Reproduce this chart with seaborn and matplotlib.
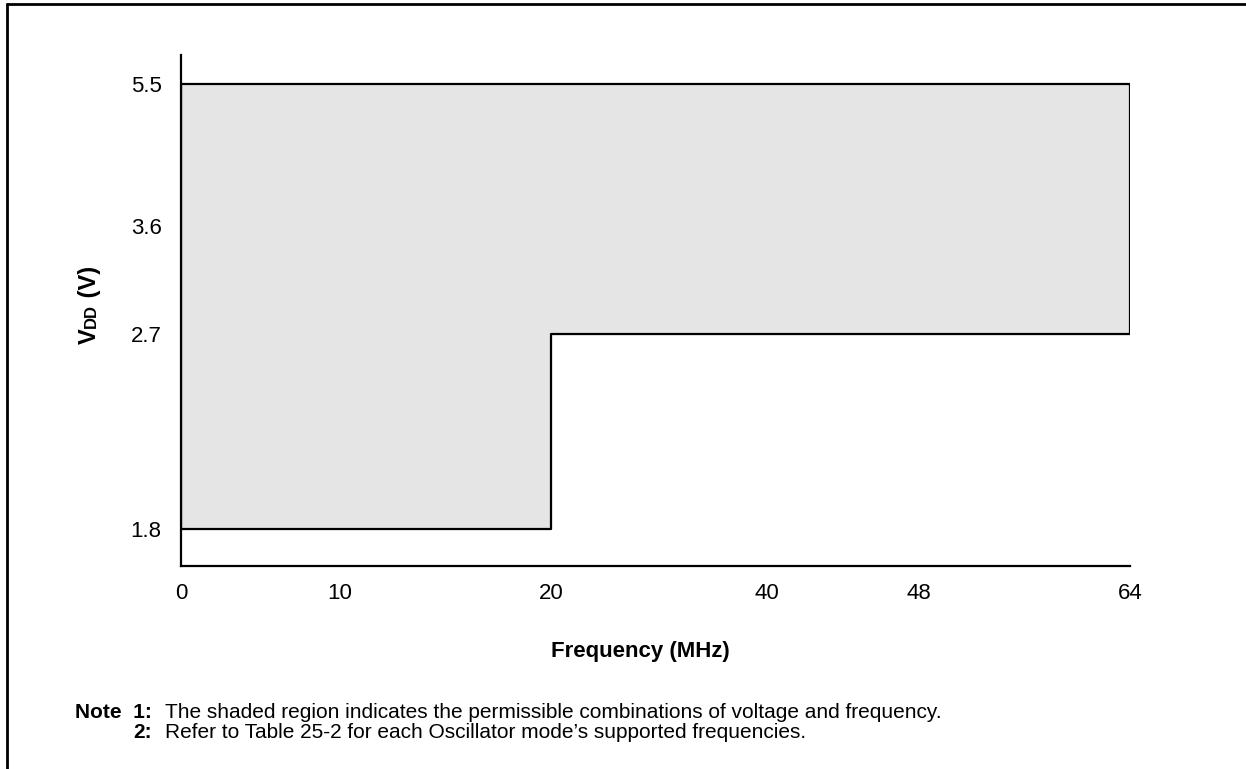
import matplotlib
matplotlib.use("Agg")
import matplotlib.pyplot as plt
from matplotlib.lines import Line2D
import numpy as np
import pandas as pd
import seaborn as sns

# permissible operating region (outline of the shaded area)
freq_mhz = [0, 20, 20, 64, 64, 0, 0]
vdd_volts = [1.8, 1.8, 2.7, 2.7, 5.5, 5.5, 1.8]

x_ticks = [0, 10, 20, 40, 48, 64]
y_ticks = [1.8, 2.7, 3.6, 5.5]

notes = [
    "The shaded region indicates the permissible combinations of voltage and frequency.",
    "Refer to Table 25-2 for each Oscillator mode\u2019s supported frequencies.",
]

# the datasheet axes are not linear: piecewise scale knots (value -> pixel offset)
x_knots = ([0, 10, 20, 40, 48, 64], [0, 159, 370, 586, 738, 949])
y_knots = ([1.8, 2.7, 3.6, 5.5], [37, 232, 340, 482])


def piecewise(v, kx, ky):
    v = np.asarray(v, dtype=float)
    shp = v.shape
    v = np.atleast_1d(v)
    out = np.interp(v, kx, ky)
    lo = v < kx[0]
    hi = v > kx[-1]
    out[lo] = ky[0] + (v[lo] - kx[0]) * (ky[1] - ky[0]) / (kx[1] - kx[0])
    out[hi] = ky[-1] + (v[hi] - kx[-1]) * (ky[-1] - ky[-2]) / (kx[-1] - kx[-2])
    return out.reshape(shp)


def make_scale(knots):
    kx, ky = knots
    return (lambda v: piecewise(v, kx, ky), lambda p: piecewise(p, ky, kx))


sns.set_style("white")
plt.rcParams["font.family"] = ["Liberation Sans", "DejaVu Sans"]
plt.rcParams["text.color"] = "black"
plt.rcParams["axes.labelcolor"] = "black"

fig = plt.figure(figsize=(12.46, 7.69), dpi=100)
ax = fig.add_axes([181 / 1246, 1 - 566 / 769, 949 / 1246, 511 / 769])

ax.set_xscale("function", functions=make_scale(x_knots))
ax.set_yscale("function", functions=make_scale(y_knots))

df = pd.DataFrame({"freq": freq_mhz, "vdd": vdd_volts})
ax.fill(df["freq"], df["vdd"], color="#e5e5e5", zorder=1)
sns.lineplot(data=df, x="freq", y="vdd", sort=False, estimator=None,
             color="black", linewidth=1.6, ax=ax, zorder=2)

yinv = make_scale(y_knots)[1]
ax.set_xlim(0, 64)
ax.set_ylim(float(yinv(0.0)), float(yinv(511.0)))

ax.set_xticks(x_ticks)
ax.set_xticklabels([str(t) for t in x_ticks])
ax.set_yticks(y_ticks)
ax.set_yticklabels([str(t) for t in y_ticks])
ax.tick_params(axis="both", length=0, labelsize=16, colors="black")
ax.tick_params(axis="x", pad=12)
ax.tick_params(axis="y", pad=14)

for side in ["top", "right"]:
    ax.spines[side].set_visible(False)
for side in ["left", "bottom"]:
    ax.spines[side].set_color("black")
    ax.spines[side].set_linewidth(1.6)

ax.set_xlabel("Frequency (MHz)", fontsize=16, fontweight="bold")
ax.xaxis.set_label_coords((640 - 181) / 949, -(641 - 566) / 511)
ax.set_ylabel("")

# y label "VDD (V)" with small-caps style DD, built from rotated pieces
x_base = 96
t1 = fig.text(x_base / 1246, (769 - 344) / 769, "V", rotation=90, rotation_mode="anchor",
              ha="left", va="baseline", fontsize=17, fontweight="bold")
fig.canvas.draw()
t2 = ax.annotate("DD", xy=(x_base, 1), xycoords=("figure pixels", t1), rotation=90,
                 rotation_mode="anchor", ha="left", va="baseline", fontsize=12,
                 fontweight="bold", annotation_clip=False)
fig.canvas.draw()
t3 = ax.annotate(" (V)", xy=(x_base, 1), xycoords=("figure pixels", t2), rotation=90,
                 rotation_mode="anchor", ha="left", va="baseline", fontsize=17,
                 fontweight="bold", annotation_clip=False)

# notes below the chart
note_y = [(769 - 718) / 769, (769 - 738) / 769]
fig.text(152 / 1246, note_y[0], "Note  1:", ha="right", va="baseline", fontsize=15, fontweight="bold")
fig.text(152 / 1246, note_y[1], "2:", ha="right", va="baseline", fontsize=15, fontweight="bold")
for yy, txt in zip(note_y, notes):
    fig.text(165 / 1246, yy, txt, ha="left", va="baseline", fontsize=15)

# frame of the figure (left and top edges)
fig.add_artist(Line2D([7 / 1246, 7 / 1246], [0, 1 - 4 / 769], color="black", linewidth=2,
                      transform=fig.transFigure))
fig.add_artist(Line2D([7 / 1246, 1], [1 - 4 / 769, 1 - 4 / 769], color="black", linewidth=2,
                      transform=fig.transFigure))

fig.savefig("out.png", dpi=100)
